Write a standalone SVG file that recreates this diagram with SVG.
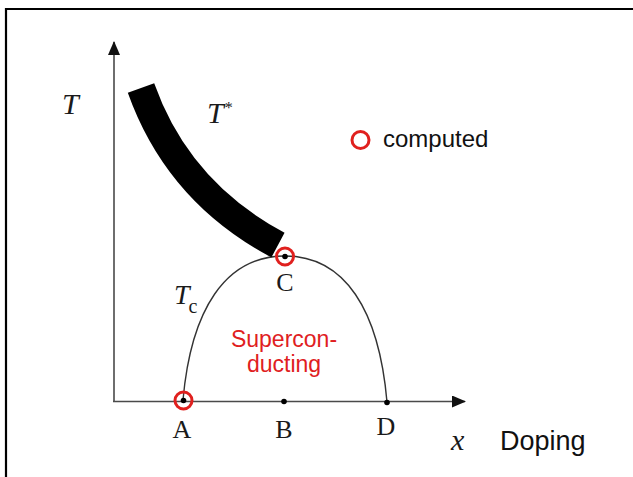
<svg xmlns="http://www.w3.org/2000/svg" width="633" height="477" viewBox="0 0 633 477">
<style>
.serif{font-family:"Liberation Serif","Times New Roman",serif;fill:#1a1a1a}
.sans{font-family:"Liberation Sans",Arial,sans-serif}
.axis{stroke:#4a4a4a;stroke-width:1.6;fill:none}
.ring{fill:none;stroke:#e0201e;stroke-width:3}
.dot{fill:#000}
</style>
<defs>
<marker id="arr" markerWidth="14" markerHeight="12" refX="13" refY="6" orient="auto" markerUnits="userSpaceOnUse">
<path d="M0,0 L14,6 L0,12 Z" fill="#111"/>
</marker>
</defs>
<rect width="633" height="477" fill="#fff"/>
<path d="M6,478 V9 H634" fill="none" stroke="#000" stroke-width="2.2"/>
<g id="connectors">
<path id="y-axis" class="axis" d="M114,402 V42" marker-end="url(#arr)"/>
<path id="x-axis" class="axis" d="M113,401.5 H465" marker-end="url(#arr)"/>
<path id="tc-dome" d="M183,400 C191,310 225,256 285,256 C345,256 379,310 387,402" fill="none" stroke="#333" stroke-width="1.4"/>
<path id="tstar-band" d="M141,88 Q178,192 278,245" fill="none" stroke="#000" stroke-width="28"/>
</g>
<g id="node-A">
<circle class="dot" cx="183.5" cy="400.5" r="2.8"/>
<circle class="ring" cx="183.5" cy="400.5" r="8.5"/>
<text class="serif" x="182" y="438" font-size="26" text-anchor="middle">A</text>
</g>
<g id="node-B">
<circle class="dot" cx="284" cy="401.5" r="2.8"/>
<text class="serif" x="284" y="438" font-size="26" text-anchor="middle">B</text>
</g>
<g id="node-C">
<circle class="dot" cx="285" cy="256.5" r="2.8"/>
<circle class="ring" cx="285" cy="256.5" r="8.5"/>
<text class="serif" x="285" y="291" font-size="26" text-anchor="middle">C</text>
</g>
<g id="node-D">
<circle class="dot" cx="387" cy="402.5" r="2.8"/>
<text class="serif" x="386" y="435" font-size="26" text-anchor="middle">D</text>
</g>
<g id="labels">
<text class="serif" x="62" y="114" font-size="30" font-style="italic">T</text>
<text class="serif" x="207" y="123" font-size="30" font-style="italic">T<tspan font-size="16" font-style="normal" dx="1" dy="-10">*</tspan></text>
<text class="serif" x="174" y="304" font-size="28" font-style="italic">T<tspan font-size="20" font-style="normal" dx="-1" dy="9">c</tspan></text>
<text class="serif" x="451" y="450" font-size="30" font-style="italic">x</text>
<text class="sans" x="500" y="450" font-size="27" fill="#111">Doping</text>
<text class="sans" x="284" y="347" font-size="23" fill="#e0201e" text-anchor="middle">Supercon-</text>
<text class="sans" x="284" y="372" font-size="23" fill="#e0201e" text-anchor="middle">ducting</text>
</g>
<g id="legend">
<circle class="ring" cx="360.5" cy="140" r="8.5"/>
<text class="sans" x="383" y="147" font-size="24" fill="#111">computed</text>
</g>
</svg>
